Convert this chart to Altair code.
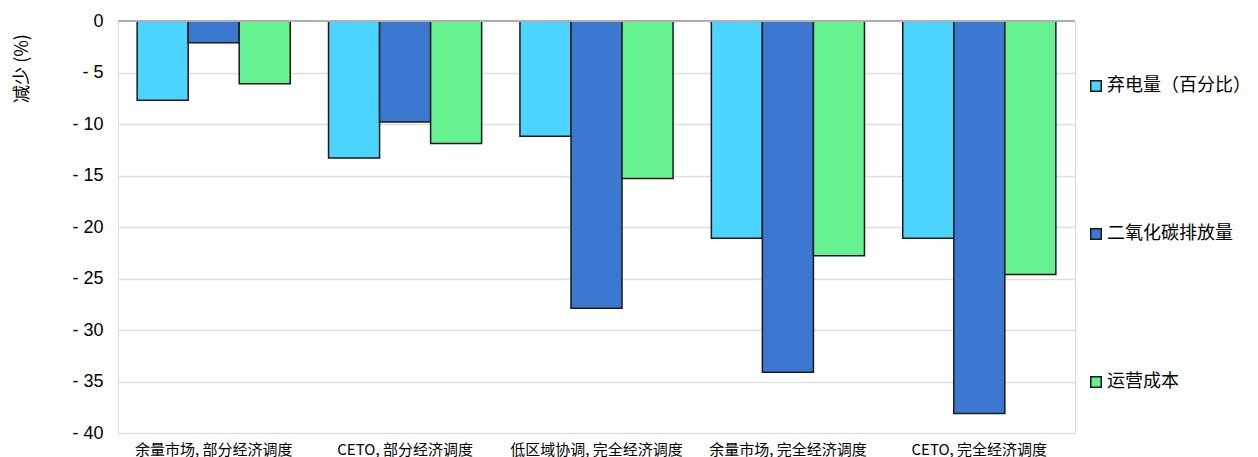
import altair as alt
import pandas as pd

categories = ["余量市场, 部分经济调度", "CETO, 部分经济调度", "低区域协调, 完全经济调度",
              "余量市场, 完全经济调度", "CETO, 完全经济调度"]
series = ["弃电量（百分比）", "二氧化碳排放量", "运营成本"]
curtail = [-7.7, -13.3, -11.2, -21.1, -21.1]
co2 = [-2.1, -9.8, -27.9, -34.1, -38.1]
cost = [-6.1, -11.9, -15.3, -22.8, -24.6]
colors = ["#4AD4FF", "#3D78D0", "#66F290"]
y_ticks = [0, -5, -10, -15, -20, -25, -30, -35, -40]

rows = []
for i, c in enumerate(categories):
    for s, vals in zip(series, [curtail, co2, cost]):
        rows.append({"cat": c, "series": s, "value": vals[i]})
df = pd.DataFrame(rows)

FONT = "Liberation Sans, Noto Sans CJK SC"

bars = alt.Chart(df).mark_bar(stroke="#1a1a1a", strokeWidth=1.5).encode(
    x=alt.X("cat:N", sort=categories,
            scale=alt.Scale(paddingInner=0.2, paddingOuter=0.1),
            axis=alt.Axis(title=None, labelAngle=0, domain=False, ticks=False,
                          labelPadding=9, labelFontSize=15, labelColor="#000000",
                          labelFont="Noto Sans CJK SC", grid=False)),
    xOffset=alt.XOffset("series:N", sort=series,
                        scale=alt.Scale(paddingInner=0, paddingOuter=0)),
    y=alt.Y("value:Q", scale=alt.Scale(domain=[-40, 0], nice=False),
            axis=alt.Axis(title="减少 (%)", values=y_ticks, domain=False, ticks=False,
                          labelExpr="datum.value == 0 ? '0' : '- ' + abs(datum.value)",
                          labelFontSize=18, labelFont=FONT, labelColor="#000000",
                          labelPadding=15, titleFont="Noto Sans CJK SC",
                          titleFontSize=18, titleFontWeight="normal", titleColor="#000000",
                          titleX=-96, titleY=47, titleAngle=270, titleAlign="center",
                          titleBaseline="middle",
                          gridColor="#dedede", gridWidth=1.5)),
    color=alt.Color("series:N", sort=series,
                    scale=alt.Scale(domain=series, range=colors),
                    legend=alt.Legend(title=None, orient="none", legendX=969, legendY=56,
                                      symbolType="square", symbolSize=110,
                                      symbolStrokeColor="#1a1a1a", symbolStrokeWidth=1.5,
                                      labelFontSize=18, labelFont="Noto Sans CJK SC",
                                      labelColor="#000000", rowPadding=130,
                                      labelOffset=2)),
)

zero = alt.Chart(pd.DataFrame({"y": [0]})).mark_rule(color="#b0b0b0", strokeWidth=2).encode(
    y="y:Q")

chart = alt.layer(bars, zero).properties(
    width=957, height=412,
    autosize=alt.AutoSizeParams(type="none"),
    padding={"left": 118, "top": 21, "right": 183, "bottom": 24},
).configure_view(stroke=None).configure(background="white")

chart.save("out.html", embed_options={"renderer": "svg", "actions": False})
